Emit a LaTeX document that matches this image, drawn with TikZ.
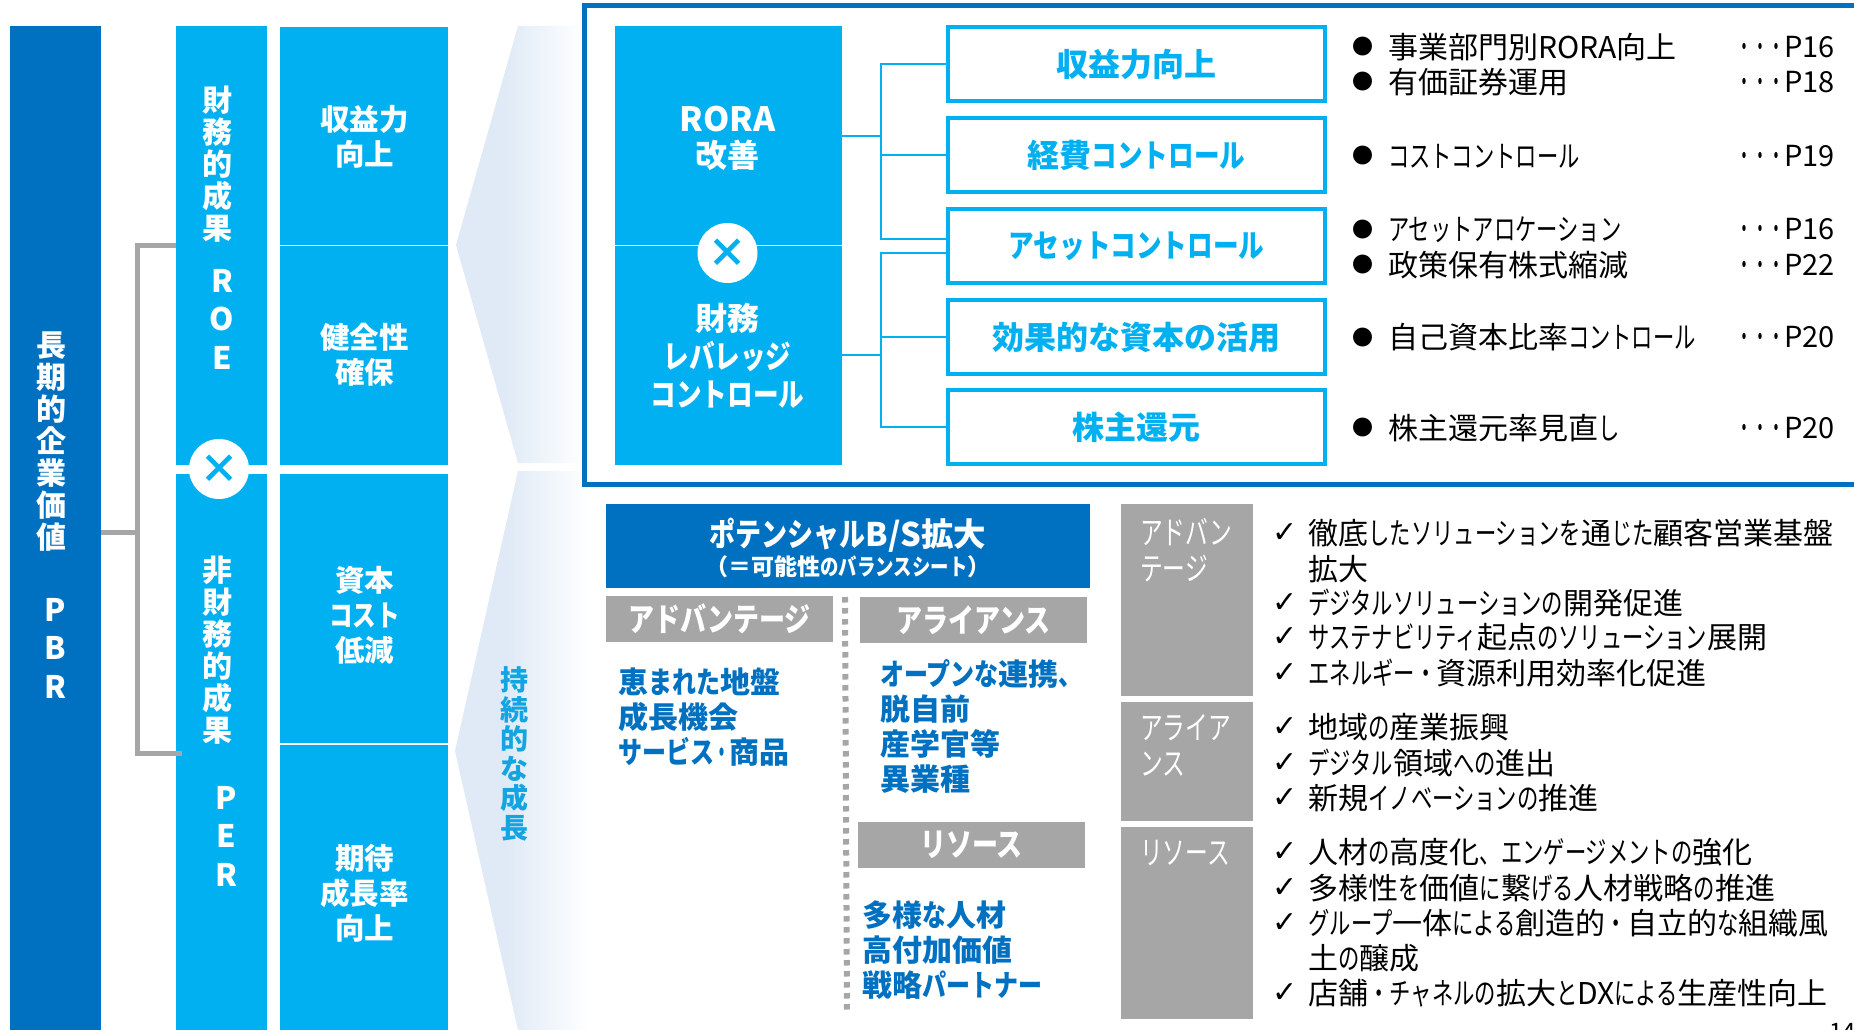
\documentclass[tikz,border=0pt]{standalone}
\usepackage{fontspec}
\setmainfont{Noto Sans CJK JP}
\newfontfamily\knfont[FakeStretch=0.71]{Noto Sans CJK JP}
\newfontfamily\bkfont[FakeStretch=0.80]{Noto Sans CJK JP}
\newfontfamily\dotfont[FakeStretch=0.5]{Noto Sans CJK JP}
\newfontfamily\syfont{DejaVu Sans}
\newcommand\K[1]{{\knfont #1}}
\newcommand\B[1]{{\bkfont #1}}
\newcommand\Mid{{\dotfont ・}}
\newcommand\fs[1]{\fontsize{#1}{#1}\selectfont}
\definecolor{navy}{HTML}{0070C0}
\definecolor{sky}{HTML}{00B0F0}
\definecolor{midsky}{HTML}{12A5E2}
\definecolor{gr}{HTML}{A6A6A6}
\definecolor{pale}{HTML}{DFEAF6}
\pgfdeclarehorizontalshading{chev}{100bp}{color(0bp)=(pale); color(25bp)=(pale); color(44bp)=(pale); color(75bp)=(white); color(100bp)=(white)}
\newcommand\rectnode[7]{%
  \pgfmathsetmacro\rw{#4-#2}\pgfmathsetmacro\rh{#5-#3}%
  \node[#6,anchor=north west,minimum width=\rw pt,minimum height=\rh pt] (#1) at (#2,#3) {#7};}
\tikzset{
  base/.style={inner sep=0pt,outer sep=0pt},
  skyfill/.style={base,fill=sky,text=white,font=\fs{28}\bfseries,align=center},
  navyfill/.style={base,fill=navy,text=white,align=center},
  grayfill/.style={base,fill=gr,text=white,align=center,font=\fs{32.5}\bfseries},
  sidegray/.style={base,fill=gr},
  leverbox/.style={base,draw=sky,line width=4.5pt,fill=white,text=sky,font=\fs{32}\bfseries},
  stack/.style={base,align=center,text=white,font=\fontsize{30}{32}\selectfont\bfseries},
  latinstack/.style={base,align=center,text=white,font=\fontsize{31}{38.5}\selectfont\bfseries},
  cell/.style={base,align=center,text=white,font=\fontsize{29.5}{35}\selectfont\bfseries},
  xmark/.style={base,circle,fill=white,text=sky,minimum size=60pt,font=\fs{40}\bfseries},
  graylink/.style={draw=gr,line width=5pt},
  bluelink/.style={draw=sky,line width=2.5pt},
  dot/.style={base,font=\fs{21}},
  item/.style={base,anchor=west,font=\fs{30}},
  pageref/.style={base,anchor=east,font=\fs{29}},
  tick/.style={base,font=\syfont\fs{30}},
  bluelist/.style={base,anchor=north west,align=left,text=navy,font=\fontsize{30}{35}\selectfont\bfseries},
  sidelabel/.style={base,anchor=north west,align=left,text=white,font=\fontsize{32}{36}\selectfont},
}
\newcommand\dotsref{{\fontspec[FakeStretch=0.55]{Noto Sans CJK JP}・・・}}
\newcommand\listrow[4]{%
  \node[dot] (d#1) at (1363,#2) {●};
  \node[item] (t#1) at (1388,#2) {#3};
  \node[pageref] (p#1) at (1835,#2) {\dotsref #4};}
\newcommand\tickrow[3]{%
  \node[tick] (c#1) at (1285,#2) {✓};
  \node[item] (x#1) at (1308.5,#2) {#3};}
\begin{document}
\begin{tikzpicture}[x=1pt,y=-1pt]
\useasboundingbox (0,0) rectangle (1854,1030);
\fill[white] (0,0) rectangle (1854,1030);

% chevrons
\shade[shading=chev] (456,245) -- (518,26) -- (584,26) -- (584,463) -- (518,463) -- cycle;
\shade[shading=chev] (455,751) -- (518,471) -- (590,471) -- (590,1030) -- (518,1030) -- cycle;
\node[base,text=midsky,align=center,font=\fontsize{28}{29.5}\selectfont\bfseries] (growth) at (514,754) {持\\続\\的\\な\\成\\長};

% left bars
\rectnode{pbrbar}{10}{26}{101}{1030}{navyfill}{}
\node[stack] (pbrtxt) at (51,442) {長\\期\\的\\企\\業\\価\\値};
\node[latinstack] (pbrlat) at (55,648) {P\\B\\R};

\rectnode{colroe}{176}{26}{267}{465}{skyfill}{}
\rectnode{colper}{176}{474}{267}{1030}{skyfill}{}
\node[stack] (roetxt) at (217,164) {財\\務\\的\\成\\果};
\node[latinstack] (roelat) at (222,319) {R\\O\\E};
\node[stack] (pertxt) at (217,650) {非\\財\\務\\的\\成\\果};
\node[latinstack] (perlat) at (226,836) {P\\E\\R};

% second column
\rectnode{cella}{280}{27}{448}{245}{skyfill}{}
\rectnode{cellb}{280}{246}{448}{465}{skyfill}{}
\rectnode{cellc}{280}{474}{448}{743}{skyfill}{}
\rectnode{celld}{280}{745}{448}{1030}{skyfill}{}
\node[cell] (ta) at (364.5,137) {収益力\\向上};
\node[cell] (tb) at (364.5,355) {健全性\\確保};
\node[cell] (tc) at (364.5,615) {資本\\\B{コスト}\\低減};
\node[cell] (td) at (364.5,893) {期待\\成長率\\向上};

% gray tree
\coordinate (gj) at (137,532);
\coordinate (gt) at (137,245);
\coordinate (gb) at (137,753);
\coordinate (gs) at (182,753);
\draw[graylink] (pbrbar.east |- gj) -- (gj);
\draw[graylink] (colroe.west |- gt) -- (gt) -- (gb) -- (gs);
\node[xmark] (xleft) at (219,469) {×};

% blue frame
\draw[navy,line width=5pt,fill=white] (584,6) rectangle (1870,484);

% RORA
\rectnode{rora}{615}{26}{842}{245}{skyfill}{}
\rectnode{lev}{615}{246}{842}{465}{skyfill}{}
\node[base,align=center,text=white,font=\fontsize{32}{36}\selectfont\bfseries] (rorat) at (727.5,138.5) {{\fs{33.5}RORA}\\改善};
\node[base,align=center,text=white,font=\fontsize{32}{38}\selectfont\bfseries] (levt) at (727.5,356) {財務\\\B{レバレッジ}\\\B{コントロール}};
\node[xmark] (xright) at (727.5,253) {×};

% lever boxes
\rectnode{boxa}{948}{27}{1325}{101}{leverbox}{\raisebox{-1pt}{収益力向上}}
\rectnode{boxb}{948}{118}{1325}{192}{leverbox}{\raisebox{-1pt}{経費\B{コントロール}}}
\rectnode{boxc}{948}{209}{1325}{283}{leverbox}{\raisebox{-1pt}{\B{アセットコントロール}}}
\rectnode{boxd}{948}{300}{1325}{374}{leverbox}{\raisebox{-1pt}{効果的な資本の活用}}
\rectnode{boxe}{948}{390}{1325}{464}{leverbox}{\raisebox{-1pt}{株主還元}}

% blue connectors
\coordinate (jt) at (881,136);
\coordinate (jb) at (881,355);
\coordinate (cup) at (881,239);
\coordinate (cdn) at (881,253);
\draw[bluelink] (rora.east |- jt) -- (jt);
\draw[bluelink] (lev.east |- jb) -- (jb);
\draw[bluelink] (boxa.west) -- (boxa.west -| jt) -- (cup) -- (boxc.west |- cup);
\draw[bluelink] (boxb.west) -- (boxb.west -| jt);
\draw[bluelink] (boxc.west |- cdn) -- (cdn) -- (boxe.west -| jb) -- (boxe.west);
\draw[bluelink] (boxd.west) -- (boxd.west -| jb);

% reference list
\listrow{a}{47}{事業部門別RORA向上}{P16}
\listrow{b}{82}{有価証券運用}{P18}
\listrow{c}{156}{\K{コストコントロール}}{P19}
\listrow{d}{229.5}{\K{アセットアロケーション}}{P16}
\listrow{e}{265}{政策保有株式縮減}{P22}
\listrow{f}{337.5}{自己資本比率\K{コントロール}}{P20}
\listrow{g}{428}{株主還元率見直\K{し}}{P20}

% potential B/S
\rectnode{bshead}{606}{504}{1090}{588}{navyfill}{}
\node[base,text=white,font=\fs{32.5}\bfseries] (bstitle) at (848,535) {\B{ポテンシャル}B/S拡大};
\node[base,text=white,font=\fs{23}\bfseries] (bssub) at (848,567) {（＝可能性\B{のバランスシート}）};
\rectnode{hadv}{606}{596}{833}{642}{grayfill}{\raisebox{-1pt}{\B{アドバンテージ}}}
\rectnode{hall}{860}{597}{1087}{643}{grayfill}{\raisebox{-1pt}{\B{アライアンス}}}
\rectnode{hres}{858}{822}{1085}{868}{grayfill}{\raisebox{-2pt}{\B{リソース}}}
\coordinate (dota) at (845,597);
\coordinate (dotb) at (847,1013);
\draw[gr,line width=6pt,dash pattern=on 5.5pt off 5.5pt] (dota) -- (dotb);
\node[bluelist] (ladv) at (618,668) {恵\B{まれた}地盤\\成長機会\\\B{サービス}\Mid 商品};
\node[bluelist] (lall) at (880,660) {\B{オープンな}連携\B{、}\\脱自前\\産学官等\\異業種};
\node[bluelist] (lres) at (862,901) {多様\B{な}人材\\高付加価値\\戦略\B{パートナー}};

% side gray
\rectnode{sadv}{1121}{504}{1253}{696}{sidegray}{}
\rectnode{sall}{1121}{702}{1253}{821}{sidegray}{}
\rectnode{sres}{1121}{827}{1253}{1019}{sidegray}{}
\node[sidelabel] (nadv) at (1140,518) {\K{アドバン}\\\K{テージ}};
\node[sidelabel] (nall) at (1140,714) {\K{アライア}\\\K{ンス}};
\node[sidelabel] (nres) at (1140,840) {\K{リソース}};

\tickrow{a}{533.3}{徹底\K{したソリューションを}通\K{じた}顧客営業基盤}
\node[item] (xa2) at (1308.5,569) {拡大};
\tickrow{b}{603.3}{\K{デジタルソリューションの}開発促進}
\tickrow{c}{637.3}{\K{サステナビリティ}起点\K{のソリューション}展開}
\tickrow{d}{673.3}{\K{エネルギー}\K{・}資源利用効率化促進}
\tickrow{e}{727.3}{地域\K{の}産業振興}
\tickrow{f}{763.3}{\K{デジタル}領域\K{への}進出}
\tickrow{g}{798.3}{新規\K{イノベーションの}推進}
\tickrow{h}{852.3}{人材\K{の}高度化\K{、エンゲージメントの}強化}
\tickrow{i}{888.3}{多様性\K{を}価値\K{に}繋\K{げる}人材戦略\K{の}推進}
\tickrow{j}{923.3}{\K{グループ}一体\K{による}創造的\K{・}自立的\K{な}組織風}
\node[item] (xj2) at (1308.5,958.3) {土\K{の}醸成};
\tickrow{k}{993.3}{店舗\K{・チャネルの}拡大\K{と}DX\K{による}生産性向上}

\node[base,anchor=west,font=\fs{24}] (pageno) at (1829,1032) {14};
\end{tikzpicture}
\end{document}
